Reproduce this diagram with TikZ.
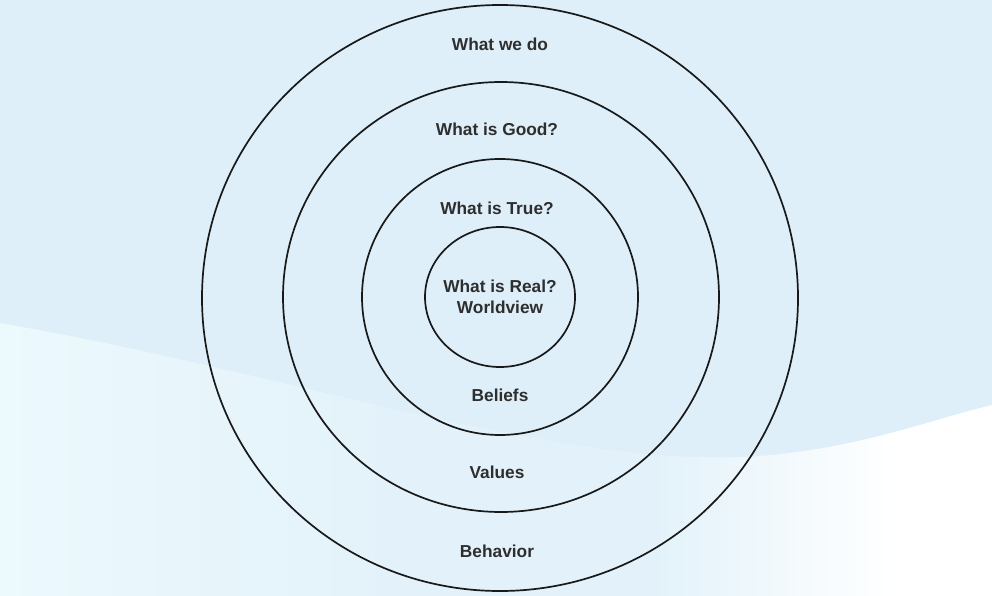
\documentclass[tikz,border=0pt]{standalone}
\usepackage{fontspec}
\setmainfont{Liberation Sans}
\newfontfamily\ringfont{Liberation Sans Bold}
\definecolor{skyblue}{RGB}{222,239,249}
\definecolor{palecyan}{RGB}{236,249,253}
\definecolor{midtone}{RGB}{227,242,250}
\pgfdeclarehorizontalshading{wave}{100bp}{color(0bp)=(palecyan); color(25bp)=(palecyan); color(45bp)=(midtone); color(58bp)=(midtone); color(70bp)=(white); color(100bp)=(white)}
\begin{document}
\begin{tikzpicture}[x=1pt, y=-1pt, line join=round, line cap=round,
	ring/.style={line width=1.7pt, color=black!90},
	lbl/.style={anchor=base, font=\fontsize{17.3}{21}\selectfont\ringfont, text=black!82, inner sep=0pt}]
			\useasboundingbox (0,0) rectangle (992,596);
			\fill[skyblue] (0,0) rectangle (992,596);
			\shade[shading=wave] (0,323) .. controls (300,375) and (560,470) .. (760,456) .. controls (860,448) and (930,420) .. (992,405) -- (992,596) -- (0,596) -- cycle;
			\draw[ring] (500,298) ellipse (298pt and 293pt);
			\draw[ring] (501,297) ellipse (218pt and 215pt);
			\draw[ring] (500,297) ellipse (138pt and 138pt);
			\draw[ring] (500,297) ellipse (75pt and 70pt);
			\node[lbl] (whatwedo) at (500,51) {What we do};
			\node[lbl] (good) at (497,136) {What is Good?};
			\node[lbl] (true) at (497,214) {What is True?};
			\node[lbl] (real) at (500,292) {What is Real?};
			\node[lbl] (worldview) at (500,313) {Worldview};
			\node[lbl] (beliefs) at (500,401) {Beliefs};
			\node[lbl] (values) at (497,478) {Values};
			\node[lbl] (behavior) at (497,557) {Behavior};
		\end{tikzpicture}
\end{document}
